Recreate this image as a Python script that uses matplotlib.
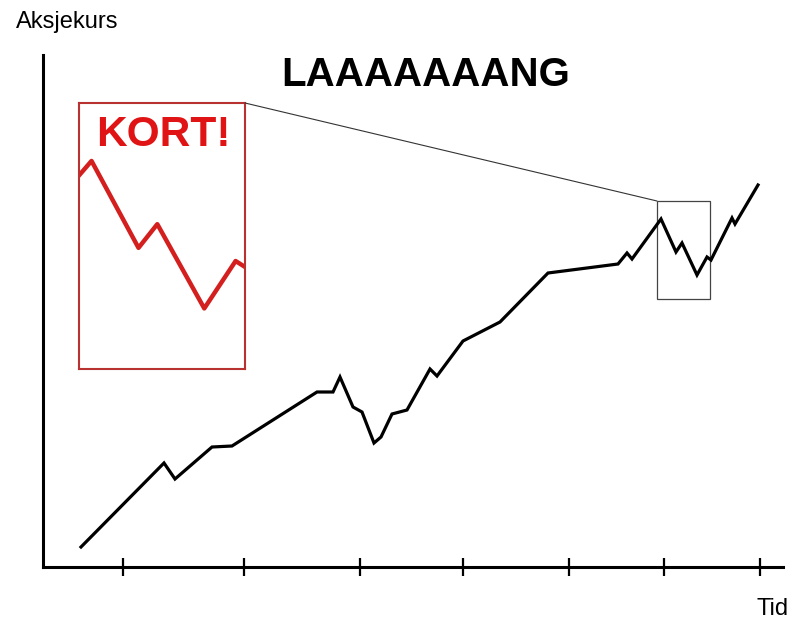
import matplotlib.pyplot as plt
from matplotlib.patches import Rectangle, ConnectionPatch

plt.rcParams['font.family'] = ['Liberation Sans', 'DejaVu Sans']

# aksjekurs over tid (vilkaarlige enheter)
tid = [38, 121, 132, 169, 189, 274, 290, 297, 310, 319, 331, 338, 349, 364, 387,
       394, 420, 457, 505, 575, 584, 589, 618, 633, 639, 654, 664, 668, 689, 692, 715]
kurs = [20, 104, 88, 120, 121, 175, 175, 190, 160, 155, 124, 130, 153, 157, 198,
        191, 226, 245, 294, 303, 314, 308, 348, 315, 324, 292, 310, 307, 349, 343, 382]
tick_pos = [80, 201, 317, 420, 526, 621, 717]

# utsnitt som forstorres
zoom_x = (614, 667)
zoom_y = (268, 366)

fig = plt.figure(figsize=(8, 6.2), dpi=100)
ax = fig.add_axes([43/800, 53/620, 740/800, 512/620])

ax.plot(tid, kurs, color='black', lw=2.3, solid_joinstyle='miter')
ax.set_xlim(0, 740)
ax.set_ylim(0, 512)

ax.spines['top'].set_visible(False)
ax.spines['right'].set_visible(False)
ax.spines['left'].set_linewidth(2.2)
ax.spines['bottom'].set_linewidth(2.2)
ax.set_xticks(tick_pos)
ax.set_xticklabels([])
ax.set_yticks([])
ax.tick_params(axis='x', direction='inout', length=13, width=1.6)

# rektangel rundt utsnittet
rect = Rectangle((zoom_x[0], zoom_y[0]), zoom_x[1] - zoom_x[0], zoom_y[1] - zoom_y[0],
                 fill=False, edgecolor='#444444', lw=0.9)
ax.add_patch(rect)

# innfelt forstorrelse
axin = ax.inset_axes([36, 198, 166, 266], transform=ax.transData)
axin.plot(tid, kurs, color='#d41f1f', lw=3.2)
axin.set_xlim(*zoom_x)
axin.set_ylim(zoom_y[0] + 1, zoom_y[1] + 4)
axin.set_xticks([])
axin.set_yticks([])
for s in axin.spines.values():
    s.set_edgecolor('#b83232')
    s.set_linewidth(1.5)
axin.text(0.51, 0.88, 'KORT!', transform=axin.transAxes, ha='center', va='center',
          fontsize=30.5, fontweight='bold', color='#e01414')

con = ConnectionPatch(xyA=(1, 1), coordsA=axin.transAxes,
                      xyB=(zoom_x[0], zoom_y[1]), coordsB=ax.transData,
                      color='#333333', lw=0.8)
fig.add_artist(con)

fig.text(426/800, 1 - 75/620, 'LAAAAAAANG', ha='center', va='center',
         fontsize=29, fontweight='bold', color='black')
fig.text(16/800, 1 - 22/620, 'Aksjekurs', ha='left', va='center', fontsize=17)
fig.text(789/800, 1 - 609/620, 'Tid', ha='right', va='center', fontsize=17)

plt.savefig('out.png', dpi=100, facecolor='white')
